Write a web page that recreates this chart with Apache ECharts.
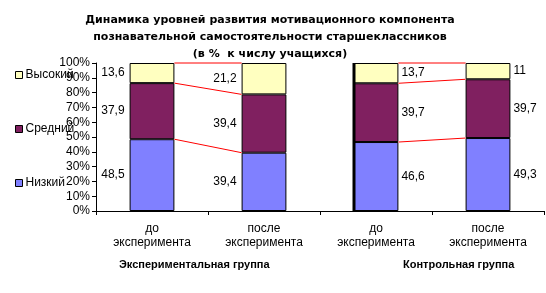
<!DOCTYPE html>
<html><head><meta charset="utf-8">
<script src="https://cdn.jsdelivr.net/npm/echarts@6/dist/echarts.min.js"></script>
<style>html,body{margin:0;padding:0;background:#fff}#c{width:546px;height:293px}</style>
</head><body><div id="c"></div>
<script>
const categories = ['до\nэксперимента', 'после\nэксперимента', 'до\nэксперимента', 'после\nэксперимента'];
const low = [48.5, 39.4, 46.6, 49.3];
const mid = [37.9, 39.4, 39.7, 39.7];
const high = [13.6, 21.2, 13.7, 11];
const yTicks = [0, 10, 20, 30, 40, 50, 60, 70, 80, 90, 100];
const seriesPairs = [[0, 1], [2, 3]];
const separatorAt = [2];
const groupLabels = ['Экспериментальная группа', 'Контрольная группа'];

const FONT = 'Liberation Sans, Arial, sans-serif';
const BFONT = 'DejaVu Sans, Liberation Sans, sans-serif';
const labelPos = ['left', 'left', 'right', 'right'];
function pct(arr, i) { const t = low[i] + mid[i] + high[i]; return arr[i] / t * 100; }
function mk(arr) {
  return arr.map((v, i) => ({
    value: pct(arr, i), raw: v,
    label: { position: labelPos[i], distance: i < 2 ? 5 : 3 }
  }));
}
const cum = categories.map((_, i) => [pct(low, i), pct(low, i) + pct(mid, i), 100]);
const lineData = [];
seriesPairs.forEach(p => { for (let k = 0; k < 3; k++) lineData.push([p[0], p[1], cum[p[0]][k], cum[p[1]][k]]); });

const chart = echarts.init(document.getElementById('c'));
const barCommon = {
  type: 'bar', stack: 's', barWidth: '40%',
  label: { show: true, color: '#000', fontFamily: FONT, fontSize: 12,
    formatter: p => String(p.data.raw).replace('.', ',') }
};
chart.setOption({
  animation: false,
  title: {
    text: 'Динамика уровней развития мотивационного компонента\nпознавательной самостоятельности старшеклассников\n(в %  к числу учащихся)',
    left: 265, textAlign: 'center', top: 7,
    textStyle: { fontFamily: BFONT, fontSize: 11, fontWeight: 'bold', lineHeight: 17, color: '#000' }
  },
  legend: {
    orient: 'vertical', left: 10, top: 64, itemGap: 42,
    itemWidth: 7, itemHeight: 7, icon: 'rect',
    data: ['Высокий', 'Средний', 'Низкий'],
    textStyle: { fontFamily: FONT, fontSize: 12, color: '#000', padding: [0, 0, 0, -2] },
    itemStyle: { borderColor: '#000', borderWidth: 1 }
  },
  grid: { left: 96, right: 2, top: 63, bottom: 82, containLabel: false },
  xAxis: {
    type: 'category', data: categories,
    axisLine: { lineStyle: { color: '#000' } },
    axisTick: { show: true, length: 4, lineStyle: { color: '#000' } },
    axisLabel: { color: '#000', fontFamily: FONT, fontSize: 12, lineHeight: 14, margin: 11, interval: 0 }
  },
  yAxis: {
    type: 'value', min: 0, max: 100, interval: 10,
    axisLine: { show: true, lineStyle: { color: '#000' } },
    axisTick: { show: true, length: 4, lineStyle: { color: '#000' } },
    splitLine: { show: false },
    axisLabel: { color: '#000', fontFamily: FONT, fontSize: 12, margin: 6,
      formatter: v => yTicks.includes(v) ? v + '%' : '' }
  },
  graphic: [
    { type: 'text', left: 119, top: 259, style: { text: groupLabels[0], font: 'bold 11px ' + FONT, fill: '#000' } },
    { type: 'text', left: 403, top: 259, style: { text: groupLabels[1], font: 'bold 11px ' + FONT, fill: '#000' } }
  ],
  series: [
    Object.assign({}, barCommon, { name: 'Низкий', data: mk(low), itemStyle: { color: '#8080FF', borderColor: '#000', borderWidth: 1 } }),
    Object.assign({}, barCommon, { name: 'Средний', data: mk(mid), itemStyle: { color: '#802060', borderColor: '#000', borderWidth: 1 } }),
    Object.assign({}, barCommon, { name: 'Высокий', data: mk(high), itemStyle: { color: '#FFFFC0', borderColor: '#000', borderWidth: 1 } }),
    {
      type: 'custom', name: 'lines', silent: true, z: 5,
      data: lineData,
      renderItem: (params, api) => {
        const bw = api.size([1, 0])[0] * 0.4;
        const a = api.coord([api.value(0), api.value(2)]);
        const b = api.coord([api.value(1), api.value(3)]);
        return { type: 'line', shape: { x1: a[0] + bw / 2, y1: a[1], x2: b[0] - bw / 2, y2: b[1] },
          style: { stroke: '#FF0000', lineWidth: 1 } };
      }
    },
    {
      type: 'custom', name: 'sep', silent: true, z: 6,
      data: separatorAt.map(c => [c]),
      renderItem: (params, api) => {
        const bw = api.size([1, 0])[0] * 0.4;
        const t = api.coord([api.value(0), 100]);
        const b = api.coord([api.value(0), 0]);
        const x = Math.round(t[0] - bw / 2);
        return { type: 'line', shape: { x1: x, y1: t[1], x2: x, y2: b[1] }, style: { stroke: '#000', lineWidth: 3 } };
      }
    }
  ]
});
</script></body></html>
